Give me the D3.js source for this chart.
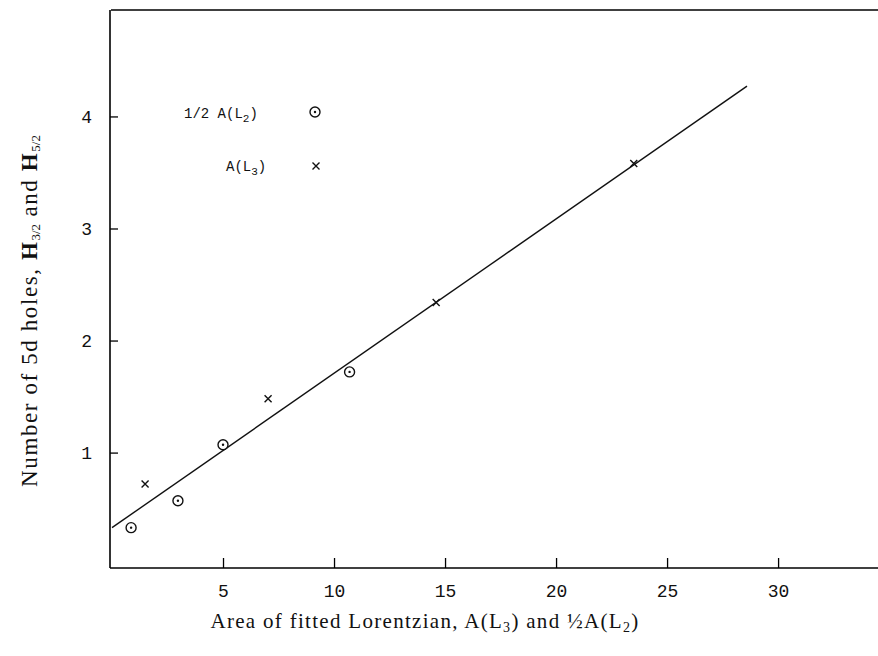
<!DOCTYPE html>
<html>
<head>
<meta charset="utf-8">
<script src="https://cdn.jsdelivr.net/npm/d3@7"></script>
<style>
  body { margin: 0; background: #fff; }
  .tick text { font-family: "Liberation Mono", "DejaVu Sans Mono", monospace; font-size: 18px; fill: #111; }
</style>
</head>
<body>
<div id="chart"></div>
<script>
// values
var circleX = [0.86, 2.97, 5.0, 10.7];     // 1/2 A(L2)
var circleY = [0.33, 0.57, 1.07, 1.72];
var crossX = [1.49, 7.03, 14.6, 23.5];     // A(L3)
var crossY = [0.72, 1.48, 2.34, 3.58];
var fitX = [0, 28.6];
var fitY = [0.33, 4.27];
var xTicks = [5, 10, 15, 20, 25, 30];
var yTicks = [1, 2, 3, 4];

var width = 878;
var height = 656;

var svg = d3.select("#chart")
    .append("svg")
    .attr("width", width)
    .attr("height", height);

var x = d3.scaleLinear().domain([0, 34.5]).range([112, 878]);
var y = d3.scaleLinear().domain([-0.03, 4.95]).range([568, 10]);

// top border line
svg.append("line")
    .attr("x1", 111).attr("y1", y(4.95))
    .attr("x2", width).attr("y2", y(4.95))
    .style("stroke", "#000")
    .style("stroke-width", 1.6);

// x axis, ticks pointing up into the plot
var xAxis = svg.append("g")
    .attr("transform", "translate(0," + y(-0.03) + ")")
    .call(d3.axisBottom(x).tickValues(xTicks).tickSizeInner(-10).tickSizeOuter(0).tickPadding(16));
xAxis.select(".domain").attr("d", "M110,0H" + width).style("stroke-width", 1.6);
xAxis.selectAll(".tick line").style("stroke-width", 1.3);

// y axis, ticks pointing right into the plot
var yAxis = svg.append("g")
    .attr("transform", "translate(110,0)")
    .call(d3.axisLeft(y).tickValues(yTicks).tickFormat(d3.format("d"))
        .tickSizeInner(-8).tickSizeOuter(0).tickPadding(18));
yAxis.select(".domain").attr("d", "M0," + y(4.95) + "V" + y(-0.03)).style("stroke-width", 1.6);
yAxis.selectAll(".tick line").style("stroke-width", 1.3);

// fitted line
var fit = fitX.map(function (d, i) { return [d, fitY[i]]; });
svg.append("path")
    .datum(fit)
    .attr("d", d3.line().x(function (d) { return x(d[0]); }).y(function (d) { return y(d[1]); }))
    .style("fill", "none")
    .style("stroke", "#111")
    .style("stroke-width", 1.4);

function drawCircle(cx, cy) {
    svg.append("circle").attr("cx", cx).attr("cy", cy).attr("r", 5)
        .style("fill", "#fff").style("stroke", "#111").style("stroke-width", 1.4);
    svg.append("circle").attr("cx", cx).attr("cy", cy).attr("r", 1.2)
        .style("fill", "#111");
}

function drawCross(cx, cy) {
    var s = 3.5;
    svg.append("path")
        .attr("d", "M" + (cx - s) + "," + (cy - s) + "L" + (cx + s) + "," + (cy + s) +
                   "M" + (cx + s) + "," + (cy - s) + "L" + (cx - s) + "," + (cy + s))
        .style("stroke", "#111")
        .style("stroke-width", 1.4);
}

circleX.forEach(function (d, i) { drawCircle(x(d), y(circleY[i])); });
crossX.forEach(function (d, i) { drawCross(x(d), y(crossY[i])); });

// legend
var mono = "'Liberation Mono', 'DejaVu Sans Mono', monospace";
var leg1 = svg.append("text")
    .attr("x", 184).attr("y", 118)
    .style("font-family", mono).style("font-size", "14px").style("fill", "#111");
leg1.append("tspan").text("1/2 A(L");
leg1.append("tspan").attr("dy", 4).style("font-size", "11px").text("2");
leg1.append("tspan").attr("dy", -4).text(")");
drawCircle(315, 112);

var leg2 = svg.append("text")
    .attr("x", 226).attr("y", 171)
    .style("font-family", mono).style("font-size", "14px").style("fill", "#111");
leg2.append("tspan").text("A(L");
leg2.append("tspan").attr("dy", 4).style("font-size", "11px").text("3");
leg2.append("tspan").attr("dy", -4).text(")");
drawCross(316, 166);

// axis titles
var serif = "'Liberation Serif', 'DejaVu Serif', serif";
var xt = svg.append("text")
    .attr("x", 425).attr("y", 628)
    .attr("text-anchor", "middle")
    .style("font-family", serif).style("font-size", "21px")
    .style("letter-spacing", "1.3px").style("fill", "#111");
xt.append("tspan").text("Area of fitted Lorentzian, A(L");
xt.append("tspan").attr("baseline-shift", "-25%").style("font-size", "14px").text("3");
xt.append("tspan").text(") and ½A(L");
xt.append("tspan").attr("baseline-shift", "-25%").style("font-size", "14px").text("2");
xt.append("tspan").text(")");

var yt = svg.append("text")
    .attr("transform", "translate(37,311) rotate(-90)")
    .attr("text-anchor", "middle")
    .style("font-family", serif).style("font-size", "23px")
    .style("letter-spacing", "1.6px").style("fill", "#111");
yt.append("tspan").text("Number of 5d holes, ");
yt.append("tspan").style("font-weight", "bold").text("H");
yt.append("tspan").attr("baseline-shift", "-25%").style("font-size", "13px").style("letter-spacing", "0px").text("3/2");
yt.append("tspan").text(" and ");
yt.append("tspan").style("font-weight", "bold").text("H");
yt.append("tspan").attr("baseline-shift", "-25%").style("font-size", "13px").style("letter-spacing", "0px").text("5/2");
</script>
</body>
</html>
